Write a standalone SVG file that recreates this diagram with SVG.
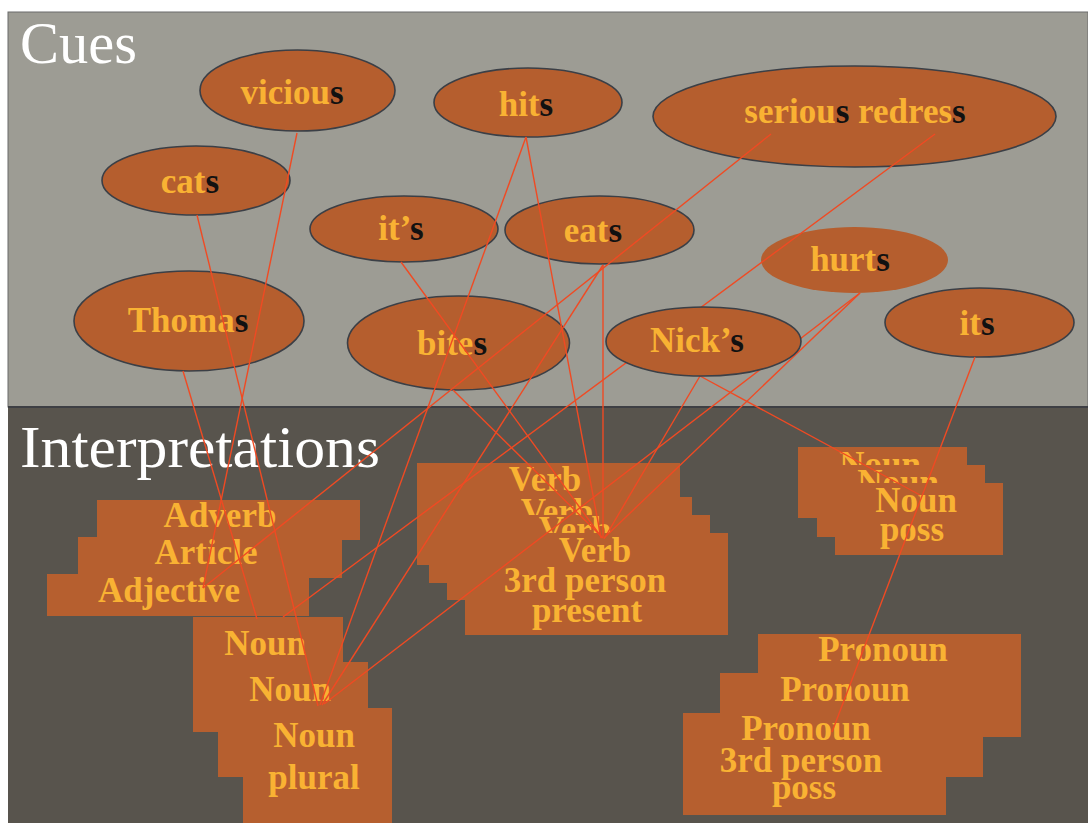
<svg xmlns="http://www.w3.org/2000/svg" width="1088" height="823" viewBox="0 0 1088 823">
<style>
.cue{fill:#b55e2e;stroke:#3b3f46;stroke-width:1.6}
.cue2{fill:#b55e2e}
.box{fill:#b65f2f}
.lbl{font-family:"Liberation Serif",serif;font-weight:bold;font-size:35px;fill:#f9b233;text-anchor:middle}
.k{fill:#111}
.title{font-family:"Liberation Serif",serif;font-size:60px;fill:#ffffff}
.ln{stroke:#f04a23;stroke-width:1.4;fill:none}
</style>
<defs>
<clipPath id="cV2"><rect x="429" y="497" width="263" height="18"/></clipPath>
<clipPath id="cV3"><rect x="447" y="515" width="263" height="18"/></clipPath>
<clipPath id="cN1"><rect x="798" y="447" width="169" height="18"/></clipPath>
<clipPath id="cN2"><rect x="817" y="465" width="168" height="18"/></clipPath>
</defs>
<rect x="0" y="0" width="1088" height="823" fill="#ffffff"/>
<rect x="8" y="12" width="1080" height="395" fill="#9d9c94" stroke="#6a6a6a" stroke-width="1"/>
<rect x="8" y="407" width="1080" height="416" fill="#58544d"/>
<line x1="8" y1="407" x2="1088" y2="407" stroke="#3e3f44" stroke-width="2"/>
<text class="title" x="20" y="63" textLength="117" lengthAdjust="spacingAndGlyphs">Cues</text>
<text class="title" x="20" y="467" textLength="360" lengthAdjust="spacingAndGlyphs">Interpretations</text>

<g id="interp-adj">
<rect class="box" x="97" y="500" width="263" height="40"/>
<text class="lbl" x="220" y="527">Adverb</text>
<rect class="box" x="78" y="537" width="264" height="41"/>
<text class="lbl" x="206" y="564">Article</text>
<rect class="box" x="47" y="574" width="262" height="42"/>
<text class="lbl" x="169" y="602">Adjective</text>
</g>
<g id="interp-verb">
<rect class="box" x="417" y="463" width="263" height="102"/>
<text class="lbl" x="545" y="491">Verb</text>
<rect class="box" x="429" y="497" width="263" height="86"/>
<text class="lbl" x="557" y="523" clip-path="url(#cV2)">Verb</text>
<rect class="box" x="447" y="515" width="263" height="85"/>
<text class="lbl" x="575" y="541" clip-path="url(#cV3)">Verb</text>
<rect class="box" x="465" y="533" width="263" height="102"/>
<text class="lbl" x="595" y="562">Verb</text>
<text class="lbl" x="585" y="592">3rd person</text>
<text class="lbl" x="587" y="622">present</text>
</g>
<g id="interp-nounposs">
<rect class="box" x="798" y="447" width="169" height="71"/>
<text class="lbl" x="880" y="476" clip-path="url(#cN1)">Noun</text>
<rect class="box" x="817" y="465" width="168" height="72"/>
<text class="lbl" x="898" y="494" clip-path="url(#cN2)">Noun</text>
<rect class="box" x="835" y="483" width="168" height="72"/>
<text class="lbl" x="916" y="512">Noun</text>
<text class="lbl" x="912" y="541">poss</text>
</g>
<g id="interp-pronoun">
<rect class="box" x="758" y="634" width="263" height="103"/>
<text class="lbl" x="883" y="661">Pronoun</text>
<rect class="box" x="720" y="673" width="263" height="104"/>
<text class="lbl" x="845" y="701">Pronoun</text>
<rect class="box" x="683" y="713" width="263" height="102"/>
<text class="lbl" x="806" y="740">Pronoun</text>
<text class="lbl" x="801" y="772">3rd person</text>
<text class="lbl" x="804" y="799">poss</text>
</g>
<g id="interp-noun">
<rect class="box" x="193" y="617" width="150" height="115"/>
<text class="lbl" x="265" y="655">Noun</text>
<rect class="box" x="218" y="662" width="150" height="115"/>
<text class="lbl" x="290" y="701">Noun</text>
<rect class="box" x="243" y="708" width="149" height="115"/>
<text class="lbl" x="314" y="747">Noun</text>
<text class="lbl" x="314" y="789">plural</text>
</g>

<g id="cue-vicious"><ellipse class="cue" cx="297.5" cy="90.5" rx="97.5" ry="40.5"/><text class="lbl" x="292" y="104">viciou<tspan class="k">s</tspan></text></g>
<g id="cue-hits"><ellipse class="cue" cx="528" cy="102.5" rx="94" ry="34.5"/><text class="lbl" x="526" y="116">hit<tspan class="k">s</tspan></text></g>
<g id="cue-serious"><ellipse class="cue" cx="854.5" cy="116.5" rx="201.5" ry="50.5"/><text class="lbl" x="855" y="123">seriou<tspan class="k">s</tspan> redres<tspan class="k">s</tspan></text></g>
<g id="cue-cats"><ellipse class="cue" cx="196" cy="180.5" rx="94" ry="34.5"/><text class="lbl" x="190" y="193">cat<tspan class="k">s</tspan></text></g>
<g id="cue-its-apos"><ellipse class="cue" cx="404" cy="229" rx="94" ry="33"/><text class="lbl" x="401" y="240">it’<tspan class="k">s</tspan></text></g>
<g id="cue-eats"><ellipse class="cue" cx="599.5" cy="230" rx="94.5" ry="34"/><text class="lbl" x="593" y="242">eat<tspan class="k">s</tspan></text></g>
<g id="cue-hurts"><ellipse class="cue2" cx="854.5" cy="260" rx="93.5" ry="33"/><text class="lbl" x="850" y="271">hurt<tspan class="k">s</tspan></text></g>
<g id="cue-thomas"><ellipse class="cue" cx="189" cy="321" rx="115" ry="50"/><text class="lbl" x="188" y="332">Thoma<tspan class="k">s</tspan></text></g>
<g id="cue-bites"><ellipse class="cue" cx="458.5" cy="343" rx="111" ry="47"/><text class="lbl" x="452" y="355">bite<tspan class="k">s</tspan></text></g>
<g id="cue-its"><ellipse class="cue" cx="979.5" cy="322.5" rx="94.5" ry="34.5"/><text class="lbl" x="977" y="335">it<tspan class="k">s</tspan></text></g>

<g id="connectors">
<line class="ln" x1="297" y1="133" x2="203" y2="588"/>
<line class="ln" x1="197" y1="215" x2="318" y2="706"/>
<line class="ln" x1="183" y1="371" x2="257" y2="619"/>
<line class="ln" x1="526" y1="137" x2="320" y2="705"/>
<line class="ln" x1="526" y1="137" x2="601" y2="538"/>
<line class="ln" x1="401" y1="262" x2="602" y2="538"/>
<line class="ln" x1="603" y1="265" x2="603" y2="538"/>
<line class="ln" x1="603" y1="265" x2="322" y2="705"/>
<line class="ln" x1="771" y1="134" x2="203" y2="588"/>
<line class="ln" x1="935" y1="134" x2="283" y2="617"/>
<line class="ln" x1="860" y1="293" x2="604" y2="538"/>
<line class="ln" x1="860" y1="293" x2="324" y2="704"/>
<line class="ln" x1="453" y1="390" x2="603" y2="538"/>
<line class="ln" x1="700" y1="376" x2="604" y2="539"/>
<line class="ln" x1="700" y1="376" x2="920" y2="495"/>
<line class="ln" x1="975" y1="357" x2="832" y2="732"/>
</g>

<g id="cue-nicks"><ellipse class="cue" cx="703.5" cy="341.5" rx="97.5" ry="34.5"/><text class="lbl" x="697" y="352">Nick’<tspan class="k">s</tspan></text></g>
</svg>
